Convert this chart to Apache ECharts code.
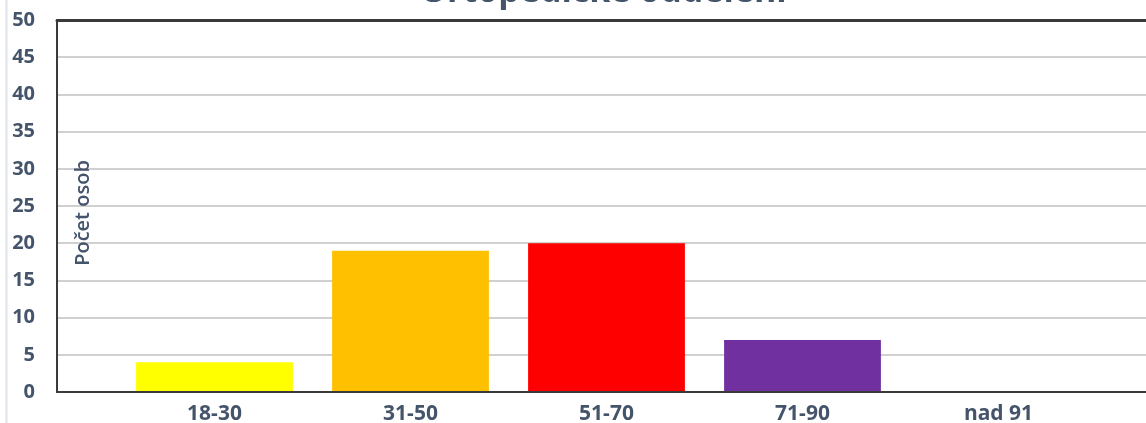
<!DOCTYPE html>
<html>
<head>
<meta charset="utf-8">
<script src="https://cdn.jsdelivr.net/npm/echarts@6/dist/echarts.min.js"></script>
<style>html,body{margin:0;padding:0;background:#fff;}#c{width:1146px;height:423px;}</style>
</head>
<body>
<div id="c"></div>
<script>
const titleText = 'Ortopedické oddělení';
const yAxisName = 'Počet osob';
const categories = ['18-30', '31-50', '51-70', '71-90', 'nad 91'];
const values = [4, 19, 20, 7, 0];
const barColors = ['#FFFF00', '#FFC000', '#FF0000', '#7030A0', '#A5A5A5'];
const yMin = 0, yMax = 50, yStep = 5;

const textColor = '#44546A';
const fontFam = '"Open Sans", "DejaVu Sans", sans-serif';
const chart = echarts.init(document.getElementById('c'), null, {renderer: 'canvas'});
chart.setOption({
  animation: false,
  backgroundColor: '#fff',
  title: {
    text: titleText, left: 415, top: -30,
    textStyle: {fontFamily: fontFam, fontWeight: 'bold', fontSize: 34, color: textColor}
  },
  graphic: [{
    type: 'line', shape: {x1: 6.5, y1: 0, x2: 6.5, y2: 423},
    style: {stroke: '#dfe4ea', lineWidth: 2}, silent: true
  }],
  grid: [
    {left: 57, top: 20, bottom: 31, right: -60, containLabel: false, outerBoundsMode: 'none'},
    {left: 116.5, width: 980, top: 20, bottom: 31, containLabel: false, outerBoundsMode: 'none'}
  ],
  xAxis: [
    {type: 'category', gridIndex: 0, data: [''], axisLabel: {show: false}, axisTick: {show: false},
     axisLine: {show: true, lineStyle: {color: '#3a3a3a', width: 2}}, splitLine: {show: false}, z: 5},
    {type: 'category', gridIndex: 0, position: 'top', data: [''], axisLabel: {show: false}, axisTick: {show: false},
     axisLine: {show: true, lineStyle: {color: '#3a3a3a', width: 3}}, splitLine: {show: false}, z: 5},
    {type: 'category', gridIndex: 1, data: categories,
     axisLine: {show: false}, axisTick: {show: false},
     axisLabel: {margin: 12, fontFamily: fontFam, fontWeight: 'bold', fontSize: 21, color: textColor}}
  ],
  yAxis: [
    {type: 'value', gridIndex: 0, min: yMin, max: yMax, interval: yStep,
     name: yAxisName, nameLocation: 'middle', nameGap: -36, nameRotate: 90, nameMoveOverlap: false,
     nameTextStyle: {fontFamily: fontFam, fontSize: 20, fontWeight: 600, color: textColor, padding: [0, 14, 0, 0]},
     axisLine: {show: true, lineStyle: {color: '#3a3a3a', width: 2}}, axisTick: {show: false},
     axisLabel: {margin: 22, fontFamily: fontFam, fontWeight: 'bold', fontSize: 20, color: textColor},
     splitLine: {show: true, lineStyle: {color: '#d0d0d0', width: 2}}, z: 0},
    {type: 'value', gridIndex: 1, min: yMin, max: yMax, interval: yStep, show: false}
  ],
  series: [{
    type: 'bar', xAxisIndex: 2, yAxisIndex: 1, barWidth: '80%', z: 3,
    data: values.map((v, i) => ({value: v, itemStyle: {color: barColors[i]}}))
  }]
});
</script>
</body>
</html>
